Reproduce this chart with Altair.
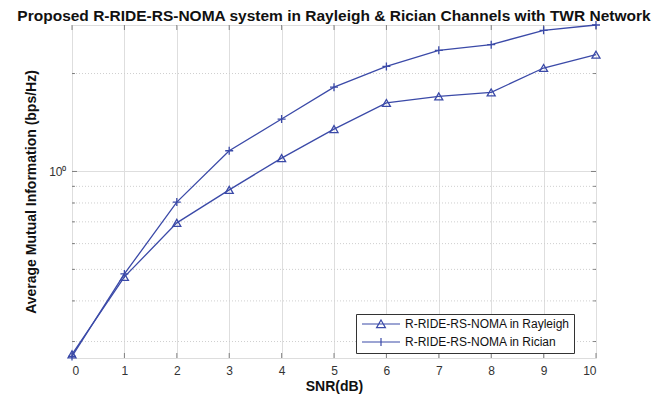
import altair as alt
import pandas as pd

# ---- data ----
snr = list(range(11))
rayleigh = [0.274, 0.474, 0.695, 0.878, 1.099, 1.350, 1.624, 1.701, 1.750, 2.080, 2.286]
rician = [0.270, 0.484, 0.805, 1.158, 1.449, 1.816, 2.104, 2.357, 2.454, 2.716, 2.820]
names = ["R-RIDE-RS-NOMA in Rayleigh", "R-RIDE-RS-NOMA in Rician"]
y_major = [1]
y_minor = [0.3, 0.4, 0.5, 0.6, 0.7, 0.8, 0.9, 2]
title_text = "Proposed R-RIDE-RS-NOMA system in Rayleigh & Rician Channels with TWR Network"

W, H = 524, 333
BLUE = "#3b4aa8"
GRID = "#dedede"
AXC = "#555555"
FONT = "Liberation Sans"

df = pd.DataFrame({
    "snr": snr * 2,
    "mi": rayleigh + rician,
    "series": [names[0]] * len(snr) + [names[1]] * len(snr),
})
xdf = pd.DataFrame({"snr": snr})
ymaj = pd.DataFrame({"mi": y_major})
ymin = pd.DataFrame({"mi": y_minor})

xs = alt.Scale(domain=[0, 10], nice=False, zero=False)
ys = alt.Scale(type="log", domain=[0.267, 2.82], nice=False)

x_axis = alt.Axis(values=snr, title="SNR(dB)", grid=True, gridColor=GRID, gridWidth=1,
                  tickSize=0, domain=False, labelPadding=7, labelFontSize=12,
                  labelColor="#333333", labelFont=FONT, titleFont=FONT, titleFontSize=14,
                  titleFontWeight="bold", titleColor="#111111", titlePadding=3)
y_axis = alt.Axis(values=y_major, labelExpr="'10\u2070'", title="Average Mutual Information (bps/Hz)",
                  grid=True, gridColor=GRID, gridWidth=1, tickSize=0, domain=False,
                  labelPadding=6, labelFontSize=12, labelColor="#333333", labelFont=FONT,
                  titleFont=FONT, titleFontSize=14, titleFontWeight="bold",
                  titleColor="#111111", titlePadding=10)

X = alt.X("snr:Q", scale=xs, axis=x_axis)
Y = alt.Y("mi:Q", scale=ys, axis=y_axis)

# dotted minor grid
minor_grid = alt.Chart(ymin).mark_rule(color="#cfcfcf", strokeDash=[1, 2], strokeWidth=1).encode(y=Y)

# inward ticks
xt_bot = alt.Chart(xdf).mark_tick(color=AXC, size=5, thickness=1).encode(x=X, y=alt.value(H - 2.5))
xt_top = alt.Chart(xdf).mark_tick(color=AXC, size=5, thickness=1).encode(x=X, y=alt.value(2.5))
yt_l = alt.Chart(ymaj).mark_tick(color=AXC, size=5, thickness=1).encode(y=Y, x=alt.value(2.5))
yt_r = alt.Chart(ymaj).mark_tick(color=AXC, size=5, thickness=1).encode(y=Y, x=alt.value(W - 2.5))
ymt_l = alt.Chart(ymin).mark_tick(color=AXC, size=3, thickness=1).encode(y=Y, x=alt.value(1.5))
ymt_r = alt.Chart(ymin).mark_tick(color=AXC, size=3, thickness=1).encode(y=Y, x=alt.value(W - 1.5))

lines = alt.Chart(df).mark_line(color=BLUE, strokeWidth=1.3).encode(x=X, y=Y, detail="series:N")

points = alt.Chart(df).mark_point(filled=False, color=BLUE, strokeWidth=1.3, size=64, opacity=1).encode(
    x=X, y=Y,
    shape=alt.Shape("series:N", scale=alt.Scale(domain=names, range=["triangle-up", "M-1,0H1M0,-1V1"]),
                    legend=None),
)

leg_tri = "M-1,0H8.5M3.75,-1L4.85,0.9H2.65Z"
leg_plus = "M-1,0H8.5M3.75,-1V1"
legend_layer = alt.Chart(df).mark_point(filled=False, color=BLUE, strokeWidth=1.2, size=64, opacity=0).encode(
    x=X, y=Y,
    shape=alt.Shape("series:N", scale=alt.Scale(domain=names, range=[leg_tri, leg_plus]),
                    legend=alt.Legend(title=None, orient="none", legendX=284, legendY=289,
                                      symbolSize=64, symbolStrokeColor=BLUE, symbolStrokeWidth=1.2,
                                      symbolFillColor="rgba(0,0,0,0)", symbolOpacity=1,
                                      labelOffset=33, labelFontSize=12, labelFont=FONT,
                                      labelColor="#111111", rowPadding=5, padding=4,
                                      strokeColor="#333333", fillColor="white",
                                      labelLimit=300)),
)

chart = alt.layer(minor_grid, xt_bot, xt_top, yt_l, yt_r, ymt_l, ymt_r, lines, points, legend_layer).resolve_scale(
    shape="independent"
).resolve_legend(shape="independent").properties(
    width=W, height=H,
    title=alt.Title(title_text, fontSize=15.5, fontWeight="bold", font=FONT, anchor="middle",
                    color="#111111", offset=-6, frame="group"),
    padding={"left": 64, "top": 17, "right": 62, "bottom": 38},
    autosize=alt.AutoSizeParams(type="none"),
).configure_view(stroke=AXC, strokeWidth=1).configure(background="white")

chart.save("out.html", embed_options={"renderer": "svg", "actions": False})
